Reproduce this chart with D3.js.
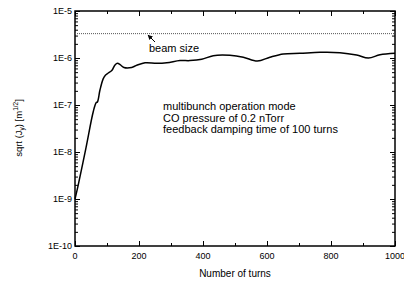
<!DOCTYPE html>
<head>
  <meta charset="utf-8">
  <script src="https://d3js.org/d3.v7.min.js"></script>
  <style>
    body { margin:0; padding:0; background:#fff; }
    text { font-family: "Liberation Sans", Arial, sans-serif; fill:#000; }
  </style>
</head>
<body>
  <svg id="chart" width="404" height="283"></svg>
  <script>
    // turns vs sqrt(Jy)
    var turns = [0, 9, 34, 57, 66, 70, 78, 88, 95, 104, 115, 125, 133, 141, 153, 177, 193,
                 219, 255, 287, 328, 359, 396, 432, 484, 526, 570, 609, 651, 703, 766,
                 828, 880, 917, 953, 1000];
    var sqrtJy = [1.0e-9, 1.83e-9, 1.2e-8, 7.2e-8, 1.12e-7, 1.16e-7, 2.08e-7, 3.6e-7, 4.3e-7, 4.8e-7, 5.4e-7,
                  7.1e-7, 7.7e-7, 7.2e-7, 6.3e-7, 6.3e-7, 7.0e-7, 7.9e-7, 7.7e-7, 7.9e-7, 8.8e-7,
                  8.8e-7, 9.4e-7, 1.12e-6, 1.14e-6, 1.04e-6, 8.6e-7, 1.04e-6, 1.22e-6, 1.26e-6, 1.32e-6,
                  1.30e-6, 1.16e-6, 1.0e-6, 1.17e-6, 1.26e-6];
    var beamSize = 3.3e-6;
    var xTicks = [0, 200, 400, 600, 800, 1000];
    var xMinor = [100, 300, 500, 700, 900];
    var yTicks = [1e-10, 1e-9, 1e-8, 1e-7, 1e-6, 1e-5];
    var yTickLabels = ["1E-10", "1E-9", "1E-8", "1E-7", "1E-6", "1E-5"];
    var notes = ["multibunch operation mode", "CO pressure of 0.2 nTorr",
                 "feedback damping time of 100 turns"];

    var pLeft = 75, pRight = 395, pTop = 11, pBottom = 246;
    var svg = d3.select("#chart");

    var x = d3.scaleLinear().domain([0, 1000]).range([pLeft, pRight]);
    var y = d3.scaleLog().domain([1e-10, 1e-5]).range([pBottom, pTop]);

    // minor log ticks
    var yMinor = [];
    yTicks.slice(0, -1).forEach(function(d) {
      for (var k = 2; k <= 9; k++) yMinor.push(d * k);
    });

    var g = svg.append("g");

    // bottom / top x axes (inward ticks)
    g.append("g").attr("transform", "translate(0," + pBottom + ")")
      .call(d3.axisTop(x).tickValues(xTicks).tickSize(5).tickFormat(""));
    g.append("g").attr("transform", "translate(0," + pBottom + ")")
      .call(d3.axisTop(x).tickValues(xMinor).tickSize(3).tickFormat(""));
    g.append("g").attr("transform", "translate(0," + pTop + ")")
      .call(d3.axisBottom(x).tickValues(xTicks).tickSize(5).tickFormat(""));
    g.append("g").attr("transform", "translate(0," + pTop + ")")
      .call(d3.axisBottom(x).tickValues(xMinor).tickSize(3).tickFormat(""));

    // left / right y axes
    g.append("g").attr("transform", "translate(" + pLeft + ",0)")
      .call(d3.axisRight(y).tickValues(yTicks).tickSize(5).tickFormat(""));
    g.append("g").attr("transform", "translate(" + pLeft + ",0)")
      .call(d3.axisRight(y).tickValues(yMinor).tickSize(3).tickFormat(""));
    g.append("g").attr("transform", "translate(" + pRight + ",0)")
      .call(d3.axisLeft(y).tickValues(yTicks).tickSize(5).tickFormat(""));
    g.append("g").attr("transform", "translate(" + pRight + ",0)")
      .call(d3.axisLeft(y).tickValues(yMinor).tickSize(3).tickFormat(""));

    g.selectAll(".domain").remove();
    g.selectAll(".tick line").attr("stroke", "#000").attr("stroke-width", 1);

    svg.append("rect")
      .attr("x", pLeft).attr("y", pTop)
      .attr("width", pRight - pLeft).attr("height", pBottom - pTop)
      .attr("fill", "none").attr("stroke", "#000").attr("stroke-width", 1.5);

    // tick labels
    svg.selectAll(".xl").data(xTicks).enter().append("text")
      .attr("x", function(d) { return x(d); }).attr("y", pBottom + 13)
      .attr("text-anchor", "middle").attr("font-size", 9)
      .text(function(d) { return d; });
    svg.selectAll(".yl").data(yTicks).enter().append("text")
      .attr("x", pLeft - 3).attr("y", function(d) { return y(d) + 3; })
      .attr("text-anchor", "end").attr("font-size", 9)
      .text(function(d, i) { return yTickLabels[i]; });

    // beam size line
    svg.append("line")
      .attr("x1", x(0)).attr("x2", x(1000))
      .attr("y1", y(beamSize)).attr("y2", y(beamSize))
      .attr("stroke", "#555").attr("stroke-width", 1).attr("stroke-dasharray", "1,1");

    // data line
    var line = d3.line()
      .x(function(d, i) { return x(turns[i]); })
      .y(function(d) { return y(d); })
      .curve(d3.curveCatmullRom.alpha(0.5));
    svg.append("path").datum(sqrtJy)
      .attr("d", line).attr("fill", "none")
      .attr("stroke", "#000").attr("stroke-width", 1.5);

    // arrow + beam size label
    svg.append("defs").append("marker")
      .attr("id", "ah").attr("viewBox", "0 0 10 10").attr("refX", 9).attr("refY", 5)
      .attr("markerWidth", 5).attr("markerHeight", 5).attr("orient", "auto")
      .append("path").attr("d", "M0,0L10,5L0,10z").attr("fill", "#000");
    svg.append("line")
      .attr("x1", 155).attr("y1", 42).attr("x2", 148).attr("y2", 35)
      .attr("stroke", "#000").attr("stroke-width", 1).attr("marker-end", "url(#ah)");
    svg.append("text").attr("x", 149).attr("y", 52).attr("font-size", 11).text("beam size");

    // notes
    svg.selectAll(".note").data(notes).enter().append("text")
      .attr("x", 163).attr("y", function(d, i) { return 110 + i * 11.5; })
      .attr("font-size", 11).text(function(d) { return d; });

    // axis titles
    svg.append("text").attr("x", (pLeft + pRight) / 2).attr("y", 277)
      .attr("text-anchor", "middle").attr("font-size", 10).text("Number of turns");

    var yt = svg.append("text")
      .attr("transform", "translate(22,128) rotate(-90)")
      .attr("text-anchor", "middle").attr("font-size", 9.5);
    yt.append("tspan").text("sqrt (J");
    yt.append("tspan").attr("font-size", 6.5).attr("dy", 2).text("y");
    yt.append("tspan").attr("dy", -2).text(") [m");
    yt.append("tspan").attr("font-size", 6.5).attr("dy", -4).text("1/2");
    yt.append("tspan").attr("dy", 4).text("]");
  </script>
</body>
